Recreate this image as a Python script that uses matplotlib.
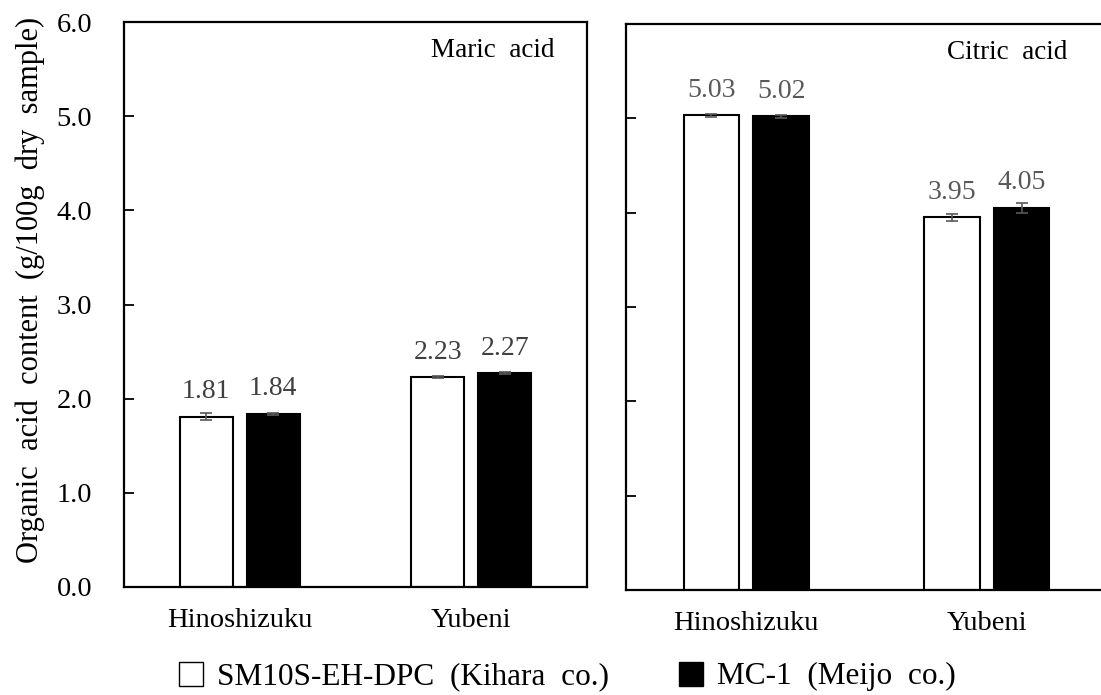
import matplotlib.pyplot as plt
import numpy as np
from matplotlib.lines import Line2D

plt.rcParams['font.family'] = ['Liberation Serif', 'DejaVu Serif']

# data
varieties = ['Hinoshizuku', 'Yubeni']
series = ['SM10S-EH-DPC  (Kihara  co.)', 'MC-1  (Meijo  co.)']

maric_kihara = [1.81, 2.23]
maric_meijo = [1.84, 2.27]
maric_kihara_err = [0.035, 0.015]
maric_meijo_err = [0.01, 0.01]

citric_kihara = [5.03, 3.95]
citric_meijo = [5.02, 4.05]
citric_kihara_err = [0.015, 0.035]
citric_meijo_err = [0.015, 0.05]

yticks = [0, 1, 2, 3, 4, 5, 6]

fig = plt.figure(figsize=(11.01, 6.95), dpi=100)
ax1 = fig.add_axes([0.1126, 0.1554, 0.4205, 0.8129])
ax2 = fig.add_axes([0.5686, 0.1511, 0.4314, 0.8144])

x = np.arange(len(varieties))
w = 0.23
off = 0.145
fs = 20.5


def draw_panel(ax, a, b, ea, eb, title, lab_color, xmax):
    ax.bar(x - off, a, w, color='white', edgecolor='black', linewidth=1.5, zorder=2)
    ax.bar(x + off, b, w, color='black', edgecolor='black', linewidth=1.5, zorder=2)
    ax.errorbar(x - off, a, yerr=ea, fmt='none', ecolor='#595959', elinewidth=1.2,
                capsize=4, capthick=1.2, zorder=3)
    ax.errorbar(x + off, b, yerr=eb, fmt='none', ecolor='#595959', elinewidth=1.2,
                capsize=4, capthick=1.2, zorder=3)
    for xi, v in zip(x - off, a):
        ax.annotate(f'{v:.2f}', (xi, v), xytext=(0, 9), textcoords='offset points',
                    ha='center', va='bottom', fontsize=20, color=lab_color)
    for xi, v in zip(x + off, b):
        ax.annotate(f'{v:.2f}', (xi, v), xytext=(0, 9), textcoords='offset points',
                    ha='center', va='bottom', fontsize=20, color=lab_color)
    ax.set_xlim(-0.5, xmax)
    ax.set_ylim(0, 6)
    ax.set_yticks(yticks)
    ax.set_xticks(x)
    ax.set_xticklabels(varieties, fontsize=fs)
    ax.tick_params(axis='x', length=0, pad=15)
    ax.tick_params(axis='y', direction='in', length=7, width=1.3)
    for s in ax.spines.values():
        s.set_linewidth(1.6)
    ax.text(0.93, 0.95, title, transform=ax.transAxes, ha='right', va='center',
            fontsize=19.5)


draw_panel(ax1, maric_kihara, maric_meijo, maric_kihara_err, maric_meijo_err,
           'Maric  acid', '#404040', 1.5)
draw_panel(ax2, citric_kihara, citric_meijo, citric_kihara_err, citric_meijo_err,
           'Citric  acid', '#595959', 1.475)

ax1.set_yticklabels([f'{t:.1f}' for t in yticks], fontsize=fs)
ax1.tick_params(axis='y', pad=23)
ax1.set_ylabel('Organic  acid  content  (g/100g  dry  sample)', fontsize=22)
ax1.yaxis.set_label_coords(-0.17, 0.525)
ax2.set_yticklabels([])
ax2.spines['right'].set_visible(False)

handles = [Line2D([], [], marker='s', linestyle='none', markersize=17,
                  markerfacecolor='white', markeredgecolor='black', markeredgewidth=1),
           Line2D([], [], marker='s', linestyle='none', markersize=17,
                  markerfacecolor='black', markeredgecolor='black')]
fig.legend(handles, series, loc='center', bbox_to_anchor=(0.515, 0.026), ncol=2,
           frameon=False, fontsize=22.5, handletextpad=0.45, columnspacing=2.2,
           handlelength=0.8)

fig.savefig('out.png', dpi=100)
